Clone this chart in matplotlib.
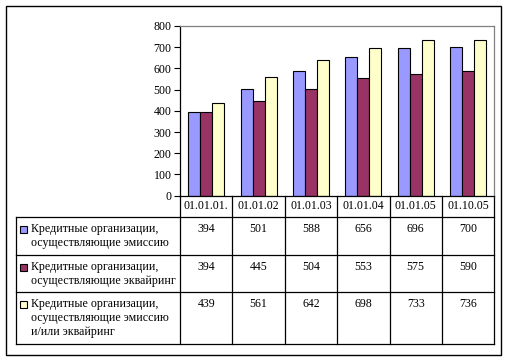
import matplotlib.pyplot as plt
import numpy as np
from matplotlib.patches import Rectangle

dates = ['01.01.01.', '01.01.02', '01.01.03', '01.01.04', '01.01.05', '01.10.05']
emission = [394, 501, 588, 656, 696, 700]
acquiring = [394, 445, 504, 553, 575, 590]
both = [439, 561, 642, 698, 733, 736]
series_names = [['Кредитные организации,', 'осуществляющие эмиссию'],
                ['Кредитные организации,', 'осуществляющие эквайринг'],
                ['Кредитные организации,', 'осуществляющие эмиссию', 'и/или эквайринг']]
colors = ['#9999FF', '#993366', '#FFFFCC']

plt.rcParams['font.family'] = ['Liberation Serif', 'DejaVu Serif']
fs = 8.55
W, H = 510, 361

fig = plt.figure(figsize=(W / 100, H / 100), dpi=100)

# pixel overlay for the frame and the data table
ov = fig.add_axes([0, 0, 1, 1])
ov.set_xlim(0, W)
ov.set_ylim(H, 0)
ov.axis('off')

# plot area
left, right, top, bottom = 180, 494.3, 26, 195.7
ax = fig.add_axes([left / W, (H - bottom) / H, (right - left) / W, (bottom - top) / H])
ax.set_zorder(2)
ax.patch.set_alpha(0)

x = np.arange(len(dates))
bw = 0.229
for k, vals in enumerate([emission, acquiring, both]):
    ax.bar(x + (k - 1) * bw, vals, bw, color=colors[k], edgecolor='black', linewidth=0.8)

ax.set_xlim(-0.5, len(dates) - 0.5)
ax.set_ylim(0, 800)
ax.set_yticks(range(0, 801, 100))
ax.tick_params(axis='y', direction='out', length=4, width=0.8, labelsize=fs, pad=2)
ax.set_xticks([])
for s in ['top', 'right']:
    ax.spines[s].set_color('#808080')
    ax.spines[s].set_linewidth(0.9)
for s in ['left', 'bottom']:
    ax.spines[s].set_color('black')
    ax.spines[s].set_linewidth(0.9)

# outer frame
ov.add_patch(Rectangle((5.7, 5.7), 495, 349.3, fill=False, edgecolor='black', linewidth=1.0))

# data table
col_w = (right - left) / len(dates)
edges = [left + i * col_w for i in range(len(dates) + 1)]
tab_left = 16.3
row_lines = [217.3, 255, 292.3, 344.3]
lw = 0.9
for y in row_lines:
    ov.plot([tab_left, right], [y, y], color='black', linewidth=lw)
ov.plot([tab_left, tab_left], [row_lines[0], row_lines[-1]], color='black', linewidth=lw)
for e in edges:
    ov.plot([e, e], [bottom, row_lines[-1]], color='black', linewidth=lw)

for i, d in enumerate(dates):
    cx = (edges[i] + edges[i + 1]) / 2
    ov.text(cx, 206, d, ha='center', va='center', fontsize=fs)

for r, vals in enumerate([emission, acquiring, both]):
    ytop = row_lines[r]
    for i, v in enumerate(vals):
        cx = (edges[i] + edges[i + 1]) / 2
        ov.text(cx, ytop + 12, str(v), ha='center', va='center', fontsize=fs)
    ov.add_patch(Rectangle((20.5, ytop + 8.7), 7, 7, facecolor=colors[r],
                           edgecolor='black', linewidth=0.8))
    for j, line in enumerate(series_names[r]):
        ov.text(30.7, ytop + 12 + j * 14, line, ha='left', va='center', fontsize=fs)

fig.savefig('out.png', dpi=100)
